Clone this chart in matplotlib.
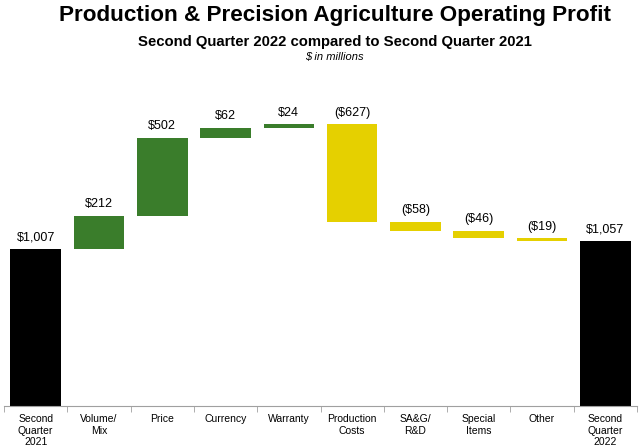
import matplotlib.pyplot as plt
import numpy as np

plt.rcParams['font.family'] = ['Liberation Sans', 'DejaVu Sans']

categories = ['Second\nQuarter\n2021', 'Volume/\nMix', 'Price', 'Currency', 'Warranty',
              'Production\nCosts', 'SA&G/\nR&D', 'Special\nItems', 'Other', 'Second\nQuarter\n2022']
start_value = 1007
changes = [212, 502, 62, 24, -627, -58, -46, -19]
end_value = 1057
labels = ['$1,007', '$212', '$502', '$62', '$24', '($627)', '($58)', '($46)', '($19)', '$1,057']

GREEN = '#3a7d2b'
YELLOW = '#e5d000'

# build the floating bars
bottoms = [0]
heights = [start_value]
colors = ['black']
running = start_value
for c in changes:
    if c >= 0:
        bottoms.append(running)
        heights.append(c)
        colors.append(GREEN)
    else:
        bottoms.append(running + c)
        heights.append(-c)
        colors.append(YELLOW)
    running += c
bottoms.append(0)
heights.append(end_value)
colors.append('black')

fig = plt.figure(figsize=(6.39, 4.47), dpi=100)
ax = fig.add_axes([4 / 639, 41 / 447, 633 / 639, 312 / 447])

x = np.arange(len(categories))
ax.bar(x, heights, bottom=bottoms, width=0.8, color=colors, edgecolor='none')

for xi, b, h, lab in zip(x, bottoms, heights, labels):
    ax.annotate(lab, (xi, b + h), xytext=(0, 4), textcoords='offset points',
                ha='center', va='bottom', fontsize=9)

ax.set_xlim(-0.5, len(categories) - 0.5)
ax.set_ylim(0, 2000)
ax.set_yticks([])
for s in ['left', 'right', 'top']:
    ax.spines[s].set_visible(False)
ax.spines['bottom'].set_color('#a0a0a0')

ax.set_xticks(x)
ax.set_xticklabels(categories, fontsize=7.5, linespacing=1.15)
ax.tick_params(axis='x', which='major', length=0, pad=6)
ax.set_xticks(np.arange(-0.5, len(categories)), minor=True)
ax.tick_params(axis='x', which='minor', length=4, color='#a0a0a0')

fig.text(0.524, 0.966, 'Production & Precision Agriculture Operating Profit',
         ha='center', va='center', fontsize=16.2, fontweight='bold')
fig.text(0.524, 0.906, 'Second Quarter 2022 compared to Second Quarter 2021',
         ha='center', va='center', fontsize=10.7, fontweight='bold')
fig.text(0.524, 0.872, '$ in millions', ha='center', va='center',
         fontsize=8, style='italic')

fig.savefig('out.png', dpi=100)
